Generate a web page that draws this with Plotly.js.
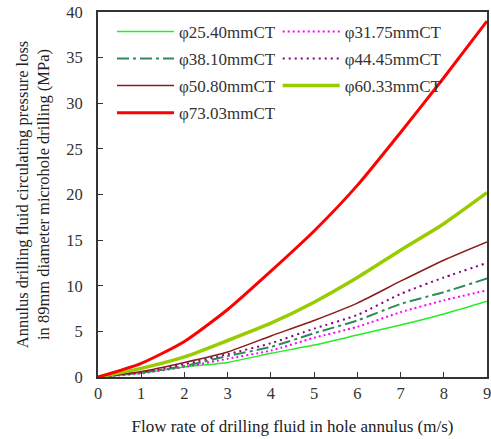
<!DOCTYPE html>
<html>
<head>
<meta charset="utf-8">
<script src="https://cdn.plot.ly/plotly-3.0.1.min.js"></script>
<style>html,body{margin:0;padding:0;background:#fff;}#chart{width:491px;height:439px;}</style>
</head>
<body>
<div id="chart"></div>
<script>
const flowRate = [0, 1, 2, 3, 4, 5, 6, 7, 8, 9];
const names = ["φ25.40mmCT", "φ31.75mmCT", "φ38.10mmCT", "φ44.45mmCT", "φ50.80mmCT", "φ60.33mmCT", "φ73.03mmCT"];
const ct2540 = [0, 0.4, 1.1, 1.6, 2.6, 3.5, 4.6, 5.7, 6.9, 8.3];
const ct3175 = [0, 0.4, 1.1, 2.0, 2.9, 4.3, 5.5, 7.1, 8.4, 9.5];
const ct3810 = [0, 0.5, 1.2, 2.3, 3.3, 4.8, 6.2, 8.0, 9.3, 10.8];
const ct4445 = [0, 0.55, 1.4, 2.5, 3.7, 5.3, 6.8, 9.1, 10.9, 12.5];
const ct5080 = [0, 0.6, 1.6, 2.75, 4.5, 6.2, 8.1, 10.5, 12.8, 14.8];
const ct6033 = [0, 0.95, 2.2, 4.0, 5.9, 8.2, 10.9, 13.9, 16.8, 20.2];
const ct7303 = [0, 1.5, 3.9, 7.4, 11.6, 16.0, 21.0, 26.8, 32.8, 39.0];
const xTicks = [0, 1, 2, 3, 4, 5, 6, 7, 8, 9];
const yTicks = [0, 5, 10, 15, 20, 25, 30, 35, 40];

const series = [ct2540, ct3175, ct3810, ct4445, ct5080, ct6033, ct7303];
const styles = [
  {color: "#22ee22", width: 1.5, dash: "solid", legend: "legend"},
  {color: "#ff00ff", width: 2, dash: "2px,3px", legend: "legend2"},
  {color: "#2e8b57", width: 2, dash: "12px,4px,3px,4px", legend: "legend"},
  {color: "#800080", width: 2, dash: "2px,4px", legend: "legend2"},
  {color: "#8b1a1a", width: 1.5, dash: "solid", legend: "legend"},
  {color: "#99cc00", width: 3.5, dash: "solid", legend: "legend2"},
  {color: "#ff0000", width: 3, dash: "solid", legend: "legend"}
];

const traces = series.map((ys, i) => ({
  x: flowRate, y: ys, type: "scatter", mode: "lines", name: names[i],
  legend: styles[i].legend, legendgroup: "g" + i,
  line: {color: styles[i].color, width: styles[i].width, dash: styles[i].dash, shape: "spline", smoothing: 0.6}
}));

const fontFam = "Liberation Serif, Times New Roman, serif";
const legendCommon = {
  bgcolor: "rgba(0,0,0,0)", borderwidth: 0, font: {family: fontFam, size: 17, color: "#333"},
  traceorder: "grouped", tracegroupgap: 2, itemwidth: 57, xanchor: "left", yanchor: "top"
};

const layout = {
  width: 491, height: 439,
  margin: {l: 98, r: 4, t: 12, b: 62},
  paper_bgcolor: "#fff", plot_bgcolor: "#fff",
  font: {family: fontFam, size: 16, color: "#222"},
  showlegend: true,
  legend: Object.assign({x: 0.036, y: 0.995}, legendCommon),
  legend2: Object.assign({x: 0.462, y: 0.995}, legendCommon),
  xaxis: {
    range: [0, 9], tickvals: xTicks, ticktext: xTicks.map(String),
    ticks: "inside", ticklen: 5, tickcolor: "#333", showline: true, linecolor: "#333", linewidth: 2,
    mirror: true, showgrid: false, zeroline: false, ticklabeloverflow: "allow",
    tickfont: {family: fontFam, size: 16.5, color: "#333"},
    title: {text: "Flow rate of drilling fluid in hole annulus (m/s)", font: {family: fontFam, size: 17, color: "#222"}, standoff: 18}
  },
  yaxis: {
    range: [0, 40], tickvals: yTicks, ticktext: yTicks.map(String),
    ticks: "inside", ticklen: 5, tickcolor: "#333", showline: true, linecolor: "#333", linewidth: 2,
    mirror: true, showgrid: false, zeroline: false, ticklabelstandoff: 10,
    tickfont: {family: fontFam, size: 16.5, color: "#333"},
    title: {text: "Annulus drilling fluid circulating pressure loss<br>in 89mm diameter microhole drilling (MPa)", font: {family: fontFam, size: 16.5, color: "#222"}, standoff: 12}
  }
};

Plotly.newPlot("chart", traces, layout, {displayModeBar: false, staticPlot: true});
</script>
</body>
</html>
